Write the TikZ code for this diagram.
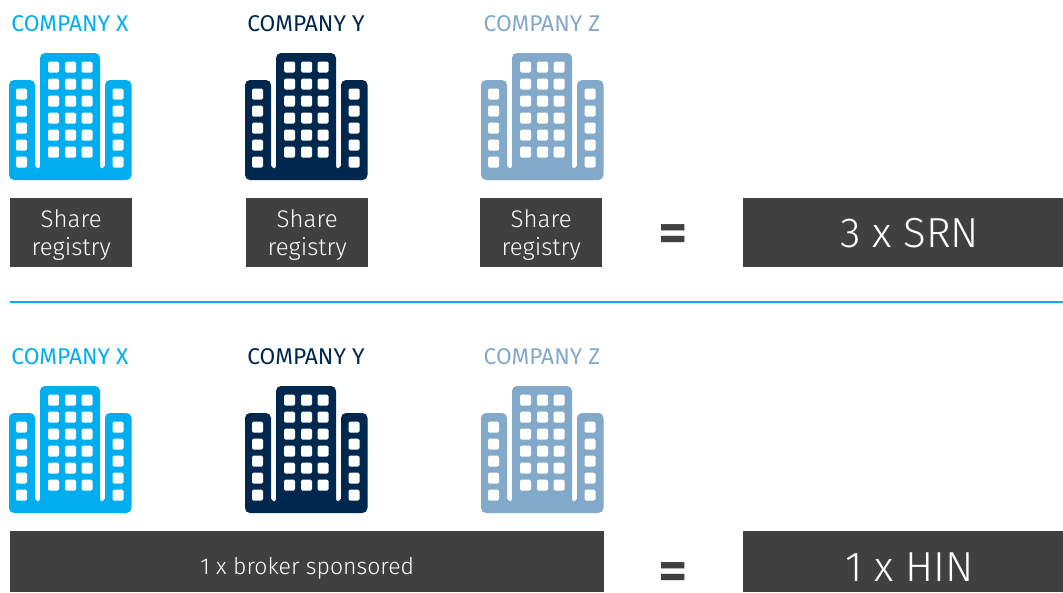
\documentclass[tikz,border=0pt]{standalone}
\usepackage{fontspec}
\setmainfont{Fira Sans Light}
\newfontfamily\coname{Fira Sans}
\usetikzlibrary{calc}
\definecolor{coX}{HTML}{00AEEF}
\definecolor{coY}{HTML}{00274D}
\definecolor{coZ}{HTML}{82A9C9}
\definecolor{boxgrey}{HTML}{404040}
\tikzset{
  coname/.style={anchor=center,font=\coname\fontsize{22.8}{22.8}\selectfont},
  darkbox/.style={fill=boxgrey,text=white,anchor=north west,inner sep=0pt,align=center},
  equalsign/.style={text=boxgrey,inner sep=0pt,text height=38pt,text depth=0pt,
    font=\fontsize{57}{57}\selectfont\bfseries},
  window/.style={fill=white,rounded corners=1.5}
}
\newcommand{\building}[2]{
  \begin{scope}[shift={(#1)}]
    \fill[#2,rounded corners=5]
      (0,27) -- (0,127) -- (122.5,127) -- (122.5,27) -- (96,27) -- (96,108)
      .. controls (96,112) and (94,115) .. (91,118) -- (91,0) -- (31,0) -- (31,118)
      .. controls (28,115) and (26,112) .. (26,108) -- (26,27) -- cycle;
    \fill[#2] (31,20) rectangle (91,122);
    \foreach \row in {0,...,5}
      \foreach \col in {39,56,72.5}
        \fill[window] (\col,8.5+17*\row) rectangle +(11,11);
    \foreach \row in {0,...,4}
      \foreach \col in {7,103.5}
        \fill[window] (\col,35.5+17*\row) rectangle +(11,11);
  \end{scope}
}
\begin{document}
\begin{tikzpicture}[x=1pt,y=-1pt]
  \useasboundingbox (0,0) rectangle (1063,592);
  % top row
  \node[coname,text=coX] (nameXa) at (70,24) {COMPANY X};
  \node[coname,text=coY] (nameYa) at (306,24) {COMPANY Y};
  \node[coname,text=coZ] (nameZa) at (542,24) {COMPANY Z};
  \building{9,53}{coX}
  \building{245,53}{coY}
  \building{481,53}{coZ}
  \foreach \x/\n in {10/Xa,246/Ya,480/Za}
    \node[darkbox,minimum width=122,minimum height=69,text width=122,
      font=\fontsize{24}{27.5}\selectfont] (reg\n) at (\x,198)
      {\rule{0pt}{23pt}Share\\registry};
  \node[equalsign] (eqa) at (673.5,233) {=};
  \node[darkbox,minimum width=320,minimum height=69,
    font=\fontsize{42}{42}\selectfont] (srn) at (743,198) {\hspace*{13pt}3 x SRN};
  \coordinate (ruleL) at (10,302);
  \coordinate (ruleR) at (1063,302);
  \draw[coX,line width=1.2] (ruleL) -- (ruleR);
  % bottom row
  \node[coname,text=coX] (nameXb) at (70,356.5) {COMPANY X};
  \node[coname,text=coY] (nameYb) at (306,356.5) {COMPANY Y};
  \node[coname,text=coZ] (nameZb) at (542,356.5) {COMPANY Z};
  \building{9,386}{coX}
  \building{245,386}{coY}
  \building{481,386}{coZ}
  \node[darkbox,minimum width=594,minimum height=61,text height=31pt,text depth=5pt,
    font=\fontsize{23}{23}\selectfont] (broker) at (10,531) {1 x broker sponsored};
  \node[equalsign] (eqb) at (673.5,571) {=};
  \node[darkbox,minimum width=320,minimum height=61,text height=39pt,text depth=0pt,
    font=\fontsize{42}{42}\selectfont] (hin) at (743,531) {\hspace*{13pt}1 x HIN};
\end{tikzpicture}
\end{document}
